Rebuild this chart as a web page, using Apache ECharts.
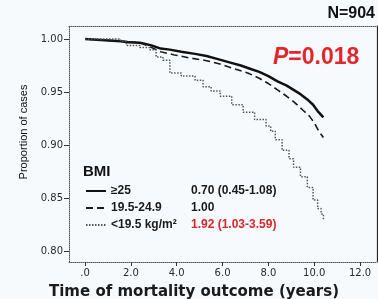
<!DOCTYPE html>
<html>
<head>
<meta charset="utf-8">
<script src="https://cdn.jsdelivr.net/npm/echarts@6/dist/echarts.min.js"></script>
<style>
  html, body { margin: 0; padding: 0; background: #f7fafc; }
  #chart { width: 378px; height: 299px; }
</style>
</head>
<body>
<div id="chart"></div>
<script>
// survival estimates (time in years, proportion)
const obeseTime = [0, 1.55, 1.9, 2.4, 2.9, 3.3, 3.7, 4.2, 4.8, 5.3, 5.8, 6.3, 6.8, 7.2, 7.6, 8.0, 8.4, 8.8, 9.1, 9.4, 9.7, 9.95, 10.15, 10.4]
const obeseSurv = [1.0, 0.998, 0.997, 0.9965, 0.994, 0.991, 0.99, 0.988, 0.986, 0.984, 0.981, 0.978, 0.975, 0.972, 0.969, 0.965, 0.96, 0.956, 0.952, 0.948, 0.943, 0.938, 0.932, 0.926]

const normalTime = [0, 1.55, 2.4, 2.8, 3.3, 3.9, 4.6, 5.2, 5.8, 6.5, 7.1, 7.6, 8.0, 8.4, 8.8, 9.1, 9.5, 9.8, 10.0, 10.2, 10.4]
const normalSurv = [1.0, 0.998, 0.9965, 0.993, 0.988, 0.985, 0.982, 0.98, 0.977, 0.972, 0.968, 0.963, 0.958, 0.952, 0.946, 0.941, 0.933, 0.927, 0.921, 0.913, 0.907]

const leanTime = [0, 1.55, 1.8, 2.4, 2.8, 3.1, 3.4, 3.7, 4.2, 4.8, 5.15, 5.5, 5.9, 6.4, 6.9, 7.4, 7.9, 8.1, 8.3, 8.6, 8.9, 9.1, 9.4, 9.7, 9.95, 10.15, 10.3, 10.4]
const leanSurv = [1.0, 0.998, 0.994, 0.992, 0.99, 0.983, 0.98, 0.968, 0.965, 0.961, 0.955, 0.951, 0.946, 0.938, 0.931, 0.924, 0.918, 0.913, 0.905, 0.895, 0.887, 0.879, 0.87, 0.86, 0.848, 0.84, 0.835, 0.829]

const groups = ['≥25', '19.5-24.9', '<19.5 kg/m²']
const hazard = ['0.70 (0.45-1.08)', '1.00', '1.92 (1.03-3.59)']

const xTicks = [0, 2, 4, 6, 8, 10, 12]
const yTicks = [0.8, 0.85, 0.9, 0.95, 1.0]

const pair = (t, s) => t.map((v, i) => [v, s[i]])

const chart = echarts.init(document.getElementById('chart'))
const boxLine = { show: true, onZero: false, lineStyle: { color: '#555', width: 1, type: [1, 1] } }
const tickFont = { fontFamily: 'DejaVu Sans', fontSize: 10, color: '#2a2a2a' }

chart.setOption({
  backgroundColor: '#f7fafc',
  animation: false,
  grid: { left: 69, right: 1, top: 26, bottom: 37 },
  xAxis: [{
    type: 'value', min: -0.7, max: 12.74,
    axisLine: boxLine,
    splitLine: { show: false },
    axisTick: { show: true, length: 4, customValues: xTicks, lineStyle: { color: '#333' } },
    axisLabel: {
      ...tickFont, margin: 6, customValues: xTicks,
      formatter: v => (v === 0 ? '.0' : v.toFixed(1))
    }
  }, {
    type: 'value', position: 'top', min: -0.7, max: 12.74,
    axisLine: boxLine, axisTick: { show: false }, axisLabel: { show: false }, splitLine: { show: false }
  }],
  yAxis: [{
    type: 'value', min: 0.7896, max: 1.0123,
    axisLine: boxLine,
    splitLine: { show: false },
    axisTick: { show: true, length: 5, customValues: yTicks, lineStyle: { color: '#333' } },
    axisLabel: {
      ...tickFont, margin: 6, customValues: yTicks,
      formatter: v => v.toFixed(2)
    }
  }, {
    type: 'value', position: 'right', min: 0.7896, max: 1.0123,
    axisLine: { show: true, onZero: false, lineStyle: { color: '#222', width: 1.2 } },
    axisTick: { show: false }, axisLabel: { show: false }, splitLine: { show: false }
  }],
  legend: {
    left: 80, top: 180, orient: 'vertical',
    itemWidth: 20, itemHeight: 12, itemGap: 5,
    itemStyle: { opacity: 0 },
    data: groups,
    formatter: name => {
      const i = groups.indexOf(name)
      return '{n|' + name + '}{' + (i === 2 ? 'r' : 'v') + '|' + hazard[i] + '}'
    },
    textStyle: {
      rich: {
        n: { fontFamily: 'Liberation Sans', fontWeight: 'bold', fontSize: 12, color: '#1a1a1a', width: 80 },
        v: { fontFamily: 'Liberation Sans', fontWeight: 'bold', fontSize: 12, color: '#1a1a1a' },
        r: { fontFamily: 'Liberation Sans', fontWeight: 'bold', fontSize: 12, color: '#d9262c' }
      }
    }
  },
  series: [{
    name: groups[0], type: 'line', symbol: 'none',
    data: pair(obeseTime, obeseSurv),
    itemStyle: { color: '#111' },
    lineStyle: { color: '#111', width: 2.5 }
  }, {
    name: groups[1], type: 'line', symbol: 'none',
    data: pair(normalTime, normalSurv),
    itemStyle: { color: '#1a1a1a' },
    lineStyle: { color: '#1a1a1a', width: 1.6, type: [7, 4] }
  }, {
    name: groups[2], type: 'line', step: 'end', symbol: 'none',
    data: pair(leanTime, leanSurv),
    itemStyle: { color: '#555' },
    lineStyle: { color: '#555', width: 1.5, type: [1.5, 1.5] }
  }],
  graphic: [{
    type: 'text', right: 3, top: 6,
    style: { text: 'N=904', font: 'bold 16px "Liberation Sans"', fill: '#111' }
  }, {
    type: 'text', left: 273, top: 46,
    style: {
      text: '{i|P}{n|=0.018}',
      rich: {
        i: { font: 'italic bold 23px "Liberation Sans"', fill: '#e3262c' },
        n: { font: 'bold 23px "Liberation Sans"', fill: '#e3262c' }
      }
    }
  }, {
    type: 'text', left: 83, top: 164,
    style: { text: 'BMI', font: 'bold 15px "Liberation Sans"', fill: '#111' }
  }, {
    type: 'text', x: 24, y: 132, rotation: Math.PI / 2,
    style: {
      text: 'Proportion of cases', font: '11px "Liberation Sans"', fill: '#111',
      align: 'center', verticalAlign: 'middle'
    }
  }, {
    type: 'text', x: 194, y: 292,
    style: {
      text: 'Time of mortality outcome (years)', font: 'bold 15px "DejaVu Sans"', fill: '#1a1a1a',
      align: 'center', verticalAlign: 'middle'
    }
  }]
})
</script>
</body>
</html>
